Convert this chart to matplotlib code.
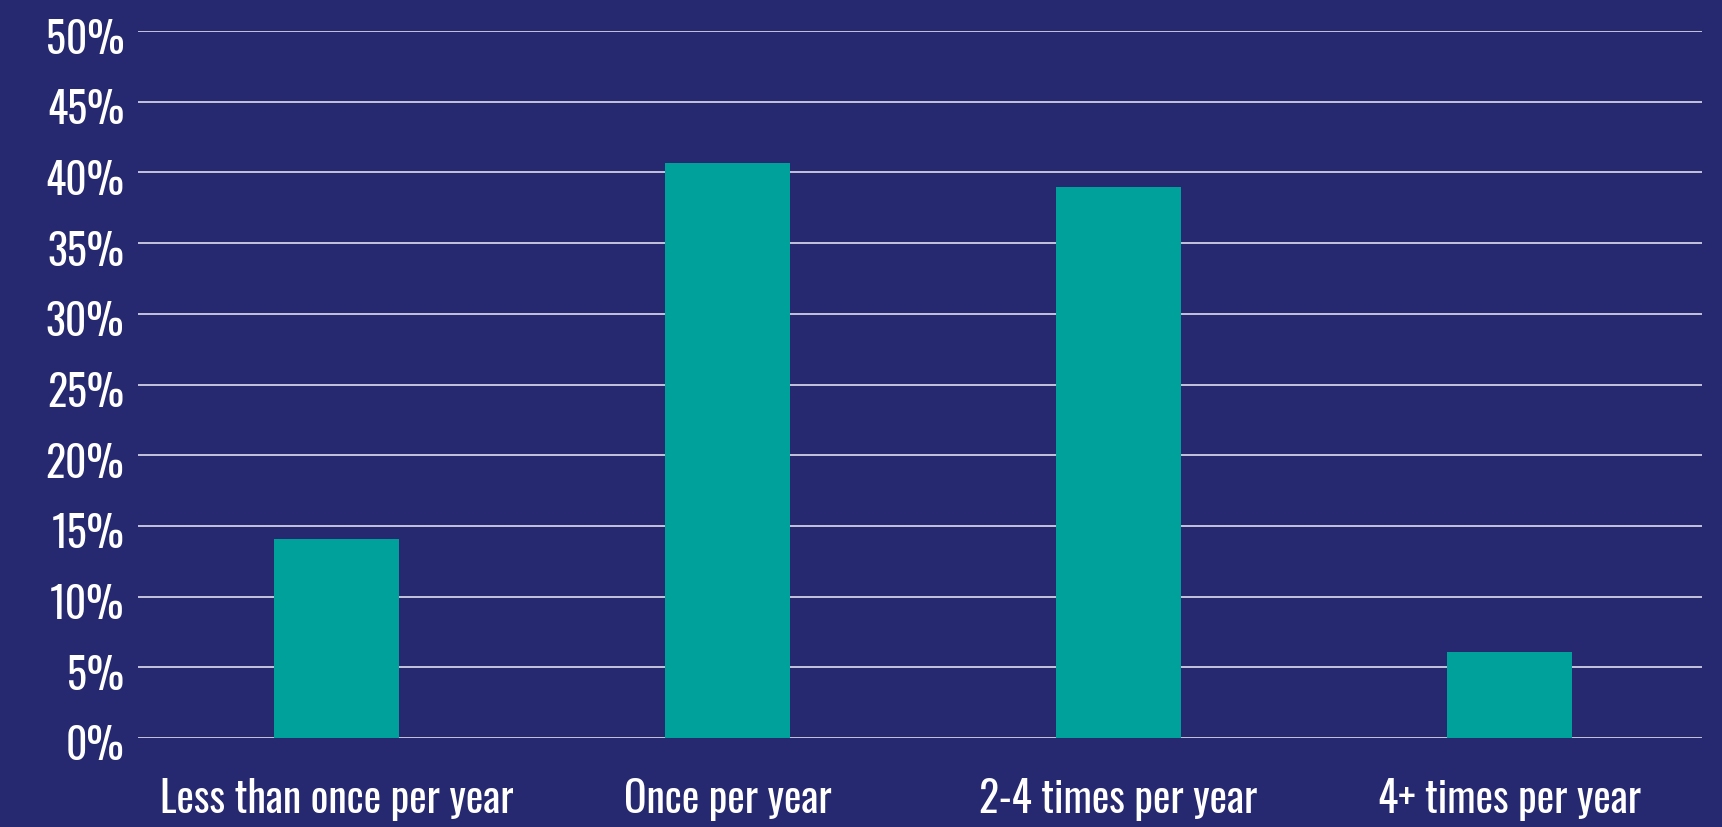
import matplotlib
matplotlib.use("Agg")
import matplotlib.pyplot as plt
from matplotlib.ticker import FuncFormatter, MultipleLocator
from matplotlib.transforms import ScaledTranslation

categories = ["Less than once per year", "Once per year", "2-4 times per year", "4+ times per year"]
values = [14.1, 40.7, 39.0, 6.1]

plt.rcParams['font.family'] = ['Oswald', 'DejaVu Sans']

BG = "#26296f"
BAR = "#00a19a"
GRID = "#d0d0e6"

W, H = 1722, 827
fig = plt.figure(figsize=(W / 100, H / 100), dpi=100)
fig.patch.set_facecolor(BG)
ax = fig.add_axes([138 / W, (H - 738) / H, (1702 - 138) / W, (738 - 31) / H])
ax.set_facecolor(BG)

x = range(len(categories))
ax.bar(x, values, width=0.318, color=BAR, zorder=3)

ax.set_xlim(-0.508, len(categories) - 0.508)
ax.set_ylim(0, 50)
ax.yaxis.set_major_locator(MultipleLocator(5))
ax.yaxis.set_major_formatter(FuncFormatter(lambda v, p: f"{v:.0f}%"))
ax.set_xticks(list(x))
ax.set_xticklabels(categories)

ax.grid(axis='y', color=GRID, linewidth=1.3, zorder=1)
ax.set_axisbelow(True)
for s in ax.spines.values():
    s.set_visible(False)
ax.tick_params(axis='both', length=0, colors='white', labelsize=30)
ax.tick_params(axis='y', pad=10)
ax.tick_params(axis='x', pad=29)
for lab in ax.get_xticklabels() + ax.get_yticklabels():
    lab.set_fontweight('light')
shift = ScaledTranslation(0, -5 / 100, fig.dpi_scale_trans)
for lab in ax.get_yticklabels():
    lab.set_transform(lab.get_transform() + shift)

fig.savefig("out.png", dpi=100, facecolor=BG)
